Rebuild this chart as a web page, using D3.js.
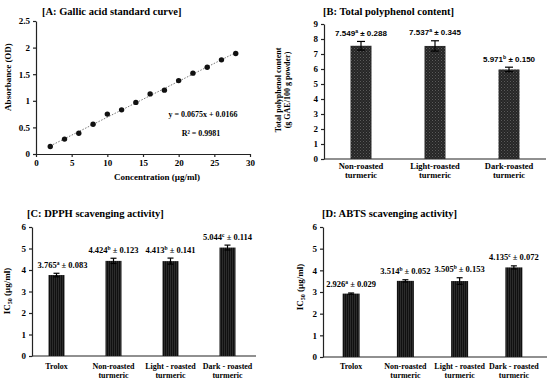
<html>
<head>
<script src="https://d3js.org/d3.v7.min.js"></script>
<style>
  body { margin: 0; background: #fff; }
  text { font-family: "Liberation Serif", "Times New Roman", serif; font-weight: bold; fill: #000; }
  .axis path, .axis line { stroke: #222; stroke-width: 1.2; }
  .axis text { font-size: 9px; fill: #000; }
</style>
</head>
<body>
<script>
// --- data ---
const gallicConc = [2, 4, 6, 8, 10, 12, 14, 16, 18, 20, 22, 24, 26, 28];
const gallicAbs = [0.14, 0.28, 0.39, 0.56, 0.75, 0.83, 0.97, 1.13, 1.20, 1.38, 1.52, 1.63, 1.77, 1.89];
const slope = 0.0675, intercept = 0.0166;

const tpcCats = [["Non-roasted", "turmeric"], ["Light-roasted", "turmeric"], ["Dark-roasted", "turmeric"]];
const tpcVals = [7.549, 7.537, 5.971];
const tpcErr = [0.288, 0.345, 0.150];
const tpcLetters = ["a", "a", "b"];

const scavCats = [["Trolox"], ["Non-roasted", "turmeric"], ["Light - roasted", "turmeric"], ["Dark - roasted", "turmeric"]];
const dpphVals = [3.765, 4.424, 4.413, 5.044];
const dpphErr = [0.083, 0.123, 0.141, 0.114];
const dpphLetters = ["a", "b", "b", "c"];
const abtsVals = [2.926, 3.514, 3.505, 4.135];
const abtsErr = [0.029, 0.052, 0.153, 0.072];
const abtsLetters = ["a", "b", "b", "c"];

const svg = d3.select("body").append("svg").attr("width", 550).attr("height", 382);

// patterns for bars
const defs = svg.append("defs");
const dots = defs.append("pattern").attr("id", "dots").attr("patternUnits", "userSpaceOnUse")
  .attr("width", 3).attr("height", 3);
dots.append("rect").attr("width", 3).attr("height", 3).attr("fill", "#262626");
dots.append("rect").attr("x", 0).attr("y", 0).attr("width", 1).attr("height", 1).attr("fill", "#5a5a5a");
dots.append("rect").attr("x", 1.5).attr("y", 1.5).attr("width", 1).attr("height", 1).attr("fill", "#4a4a4a");
const stripes = defs.append("pattern").attr("id", "stripes").attr("patternUnits", "userSpaceOnUse")
  .attr("width", 2).attr("height", 4);
stripes.append("rect").attr("width", 2).attr("height", 4).attr("fill", "#101010");
stripes.append("rect").attr("width", 0.7).attr("height", 4).attr("fill", "#383838");

// --- panel A ---
{
  const x = d3.scaleLinear().domain([0, 30]).range([36, 250]);
  const y = d3.scaleLinear().domain([0, 2.5]).range([154, 21]);
  svg.append("g").attr("class", "axis").attr("transform", "translate(0,154)")
    .call(d3.axisBottom(x).tickValues(d3.range(0, 31, 5)).tickSize(3).tickSizeOuter(0));
  svg.append("g").attr("class", "axis").attr("transform", "translate(36,0)")
    .call(d3.axisLeft(y).tickValues([0, 0.5, 1, 1.5, 2, 2.5]).tickFormat(d3.format("")).tickSize(3).tickSizeOuter(0));
  svg.append("line")
    .attr("x1", x(2)).attr("y1", y(slope * 2 + intercept))
    .attr("x2", x(28)).attr("y2", y(slope * 28 + intercept))
    .attr("stroke", "#777").attr("stroke-width", 1).attr("stroke-dasharray", "1.5,1.5");
  svg.append("g").selectAll("circle").data(gallicConc).join("circle")
    .attr("cx", d => x(d)).attr("cy", (d, i) => y(gallicAbs[i])).attr("r", 2.7).attr("fill", "#111");
  svg.append("text").attr("x", 42).attr("y", 15).attr("font-size", 10.5).text("[A: Gallic acid standard curve]");
  svg.append("text").attr("x", 157).attr("y", 180).attr("text-anchor", "middle").attr("font-size", 9)
    .text("Concentration (µg/ml)");
  svg.append("text").attr("transform", "translate(11,77) rotate(-90)").attr("text-anchor", "middle")
    .attr("font-size", 9).text("Absorbance (OD)");
  svg.append("text").attr("x", 203).attr("y", 117).attr("text-anchor", "middle").attr("font-size", 8)
    .text("y = 0.0675x + 0.0166");
  svg.append("text").attr("x", 201).attr("y", 136).attr("text-anchor", "middle").attr("font-size", 8)
    .text("R² = 0.9981");
}

// --- bar panel helper ---
function barPanel(o) {
  const g = svg.append("g");
  const x = d3.scaleBand().domain(d3.range(o.cats.length)).range(o.band);
  const y = d3.scaleLinear().domain([0, o.ymax]).range([o.y0, o.y1]);
  g.append("g").attr("class", "axis").attr("transform", `translate(${o.ax},0)`)
    .call(d3.axisLeft(y).ticks(o.ymax).tickSize(3).tickSizeOuter(0));
  g.append("line").attr("x1", o.ax).attr("x2", o.axEnd).attr("y1", o.y0).attr("y2", o.y0)
    .attr("stroke", "#222").attr("stroke-width", 1.2);
  const bw = o.barW;
  g.selectAll("rect.bar").data(o.vals).join("rect").attr("class", "bar")
    .attr("x", (d, i) => x(i) + x.bandwidth() / 2 - bw / 2).attr("width", bw)
    .attr("y", d => y(d)).attr("height", d => o.y0 - y(d)).attr("fill", o.fill);
  // error bars
  o.vals.forEach((v, i) => {
    const cx = x(i) + x.bandwidth() / 2;
    const e = o.err[i];
    g.append("line").attr("x1", cx).attr("x2", cx).attr("y1", y(v - e)).attr("y2", y(v + e))
      .attr("stroke", "#000").attr("stroke-width", 1.2);
    [v - e, v + e].forEach(t => g.append("line").attr("x1", cx - o.cap).attr("x2", cx + o.cap)
      .attr("y1", y(t)).attr("y2", y(t)).attr("stroke", "#000").attr("stroke-width", 1.2));
    const lab = g.append("text").attr("x", cx + (o.labDx ? o.labDx[i] : 0)).attr("y", y(v + e) - 5.5)
      .attr("text-anchor", "middle").attr("font-size", o.labSize)
      .style("font-family", o.labFont);
    lab.append("tspan").text(v.toFixed(3));
    lab.append("tspan").attr("dy", -3).attr("font-size", o.labSize * 0.65).text(o.letters[i]);
    lab.append("tspan").attr("dy", 3).text(" ± " + e.toFixed(3));
    const t = g.append("text").attr("text-anchor", "middle").attr("font-size", o.catSize);
    o.cats[i].forEach((s, k) => t.append("tspan").attr("x", cx).attr("y", o.catY + k * 8.5).text(s));
  });
  g.append("text").attr("x", o.titleX).attr("y", o.titleY).attr("font-size", 10.5).text(o.title);
  const yl = g.append("text").attr("transform", `translate(${o.ylX},${o.ylY}) rotate(-90)`)
    .attr("text-anchor", "middle").attr("font-size", o.ylSize);
  o.ylab.forEach((s, k) => yl.append("tspan").attr("x", 0).attr("y", k * 8.5).html(s));
}

barPanel({
  cats: tpcCats, vals: tpcVals, err: tpcErr, letters: tpcLetters,
  band: [324, 546], barW: 21, cap: 4, ax: 324, axEnd: 546,
  ymax: 9, y0: 159, y1: 24, fill: "url(#dots)",
  labSize: 8, labFont: "'Liberation Sans', Arial, sans-serif",
  catY: 169, catSize: 8.5,
  title: "[B: Total polyphenol content]", titleX: 323, titleY: 15,
  ylab: ["Total polyphenol content", "(g GAE/100 g powder)"], ylX: 281, ylY: 90, ylSize: 8
});

barPanel({
  cats: scavCats, vals: dpphVals, err: dpphErr, letters: dpphLetters,
  band: [28, 256], barW: 16, cap: 3, ax: 32, axEnd: 256,
  ymax: 6, y0: 356, y1: 227, fill: "url(#stripes)",
  labSize: 8.5, labFont: "'Liberation Serif', serif", labDx: [6, 0, 0, 0],
  catY: 369, catSize: 8,
  title: "[C: DPPH scavenging activity]", titleX: 27, titleY: 217,
  ylab: ["IC<tspan font-size='6' dy='2'>50</tspan><tspan dy='-2'> (µg/ml)</tspan>"], ylX: 10, ylY: 291, ylSize: 9
});

barPanel({
  cats: scavCats, vals: abtsVals, err: abtsErr, letters: abtsLetters,
  band: [324, 541], barW: 17, cap: 3, ax: 323, axEnd: 547,
  ymax: 6, y0: 357, y1: 227, fill: "url(#stripes)",
  labSize: 8.5, labFont: "'Liberation Serif', serif",
  catY: 369, catSize: 8,
  title: "[D: ABTS scavenging activity]", titleX: 322, titleY: 217,
  ylab: ["IC<tspan font-size='6' dy='2'>50</tspan><tspan dy='-2'> (µg/ml)</tspan>"], ylX: 303, ylY: 287, ylSize: 9
});
</script>
</body>
</html>
